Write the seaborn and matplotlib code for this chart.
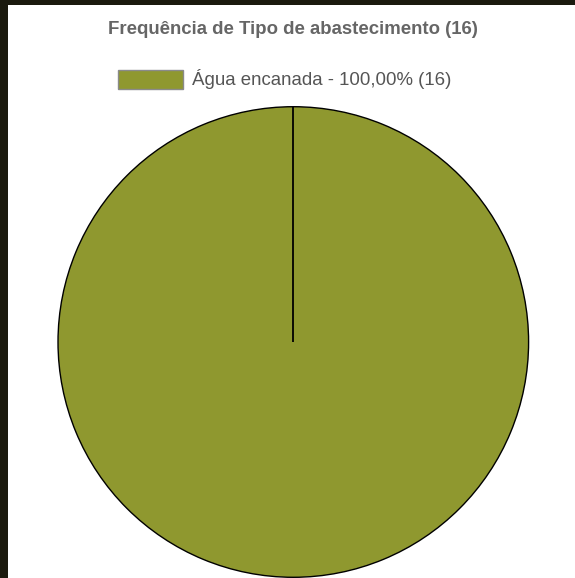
import matplotlib
matplotlib.use("Agg")
import numpy as np
import matplotlib.pyplot as plt
from matplotlib.patches import Rectangle, Patch
import seaborn as sns

# Supply type frequency
categories = ["Água encanada"]
counts = [16]
colors = ["#8f982f"]
title = "Frequência de Tipo de abastecimento (16)"

sns.set_theme(style="white")
plt.rcParams["font.family"] = ["Liberation Sans", "DejaVu Sans"]

W, H = 575, 578
fig = plt.figure(figsize=(W / 100, H / 100), dpi=100)
fig.patch.set_facecolor("white")

# Dark frame strips along the top and left edges
fig.patches.append(Rectangle((0, 1 - 5 / H), 1, 5 / H, transform=fig.transFigure,
                             facecolor="#1b1a0e", edgecolor="none", zorder=10))
fig.patches.append(Rectangle((0, 0), 8 / W, 1, transform=fig.transFigure,
                             facecolor="#1b1a0e", edgecolor="none", zorder=10))

cx, cy, r = 293.3, 342, 236
ax = fig.add_axes([(cx - r) / W, (H - cy - r) / H, 2 * r / W, 2 * r / H])
wedges, _ = ax.pie(counts, colors=colors, startangle=90, counterclock=False,
                   wedgeprops=dict(edgecolor="black", linewidth=1.0))
# Radial boundary line at the start of each slice
for w in wedges:
    ang = np.deg2rad(w.theta2)
    ax.plot([w.center[0], w.center[0] + w.r * np.cos(ang)],
            [w.center[1], w.center[1] + w.r * np.sin(ang)],
            color="black", linewidth=1.3, solid_capstyle="butt")
ax.set_xlim(-1.003, 1.003)
ax.set_ylim(-1.003, 1.003)
ax.set_aspect("equal")
ax.axis("off")

fig.text(cx / W, 1 - 29.5 / H, title, ha="center", va="center",
         fontsize=13.4, fontweight="bold", color="#666666")

total = sum(counts)
labels = [f"{c} - {v / total * 100:.2f}%".replace(".", ",") + f" ({v})"
          for c, v in zip(categories, counts)]
handles = [Patch(facecolor=col, edgecolor="#8a8a8a", linewidth=1.0) for col in colors]
fig.legend(handles, labels, loc="center left", bbox_to_anchor=(118 / W, 1 - 79.5 / H),
           frameon=False, fontsize=13.4, labelcolor="#555555",
           handlelength=3.5, handleheight=1.17, handletextpad=0.45,
           borderpad=0, borderaxespad=0)

fig.savefig("out.png", dpi=100, facecolor="white")
